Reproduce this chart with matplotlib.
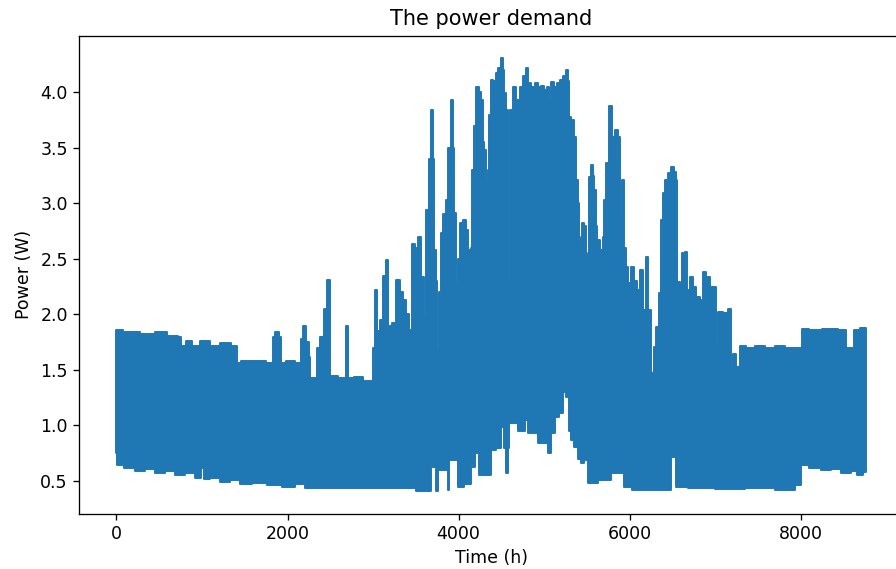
import matplotlib
matplotlib.use("Agg")
import matplotlib.pyplot as plt

# upper envelope of the hourly demand (hour, W)
top_hours = [0, 155, 389, 506, 681, 752, 764, 857, 915, 1032, 1149, 1266, 1406,
             1424, 1500, 1675, 1816, 1840, 1875, 1922, 1933, 2027, 2143, 2166,
             2201, 2236, 2260, 2271, 2330, 2353, 2400, 2446, 2482, 2505, 2669,
             2692, 2716, 2845, 2915, 2985, 3008, 3032, 3055, 3102, 3137, 3160,
             3195, 3254, 3289, 3336, 3371, 3406, 3429, 3476, 3511, 3546, 3581,
             3605, 3640, 3663, 3687, 3710, 3722, 3745, 3757, 3780, 3804, 3839,
             3862, 3897, 3921, 3944, 3956, 3979, 4003, 4038, 4073, 4096, 4131,
             4154, 4166, 4189, 4224, 4248, 4271, 4294, 4306, 4329, 4353, 4364,
             4388, 4423, 4446, 4481, 4505, 4528, 4540, 4575, 4593, 4610, 4657,
             4692, 4739, 4774, 4797, 4832, 4856, 4867, 4885, 4914, 4949, 4984,
             5019, 5042, 5066, 5101, 5136, 5159, 5206, 5241, 5264, 5288, 5299,
             5334, 5358, 5381, 5404, 5416, 5440, 5451, 5475, 5498, 5521, 5533,
             5556, 5580, 5592, 5615, 5627, 5674, 5697, 5709, 5744, 5779, 5802,
             5849, 5884, 5896, 5919, 5943, 5966, 6001, 6036, 6071, 6095, 6141,
             6176, 6200, 6235, 6270, 6293, 6328, 6363, 6375, 6398, 6433, 6468,
             6503, 6527, 6550, 6562, 6609, 6620, 6667, 6679, 6725, 6760, 6795,
             6842, 6877, 6912, 6959, 6994, 7017, 7052, 7134, 7169, 7193, 7228,
             7263, 7310, 7403, 7520, 7637, 7754, 7871, 8012, 8024, 8164, 8339,
             8526, 8538, 8620, 8632, 8759]
top_power = [1.86, 1.84, 1.82, 1.84, 1.81, 1.80, 1.72, 1.76, 1.72, 1.76, 1.72,
             1.74, 1.72, 1.56, 1.58, 1.58, 1.56, 1.80, 1.84, 1.80, 1.56, 1.58,
             1.56, 1.78, 1.90, 1.75, 1.62, 1.43, 1.43, 1.70, 1.80, 2.05, 2.31,
             1.45, 1.43, 1.90, 1.43, 1.44, 1.40, 1.40, 1.70, 2.22, 1.85, 1.95,
             2.35, 2.49, 1.90, 1.92, 2.31, 2.20, 2.13, 2.00, 1.86, 2.63, 2.60,
             2.70, 2.34, 1.98, 2.94, 3.40, 3.84, 3.40, 2.58, 2.30, 1.68, 2.20,
             2.73, 2.90, 3.03, 3.50, 3.93, 3.50, 2.91, 2.28, 2.50, 2.82, 2.85,
             2.76, 2.58, 2.60, 3.30, 3.70, 4.05, 4.00, 3.93, 3.55, 3.48, 3.18,
             3.30, 3.80, 4.11, 4.10, 4.17, 4.22, 4.31, 4.20, 3.99, 3.84, 2.28,
             3.84, 4.05, 3.93, 4.05, 4.15, 4.22, 4.08, 4.05, 3.15, 4.05, 4.08,
             4.05, 4.06, 4.02, 4.05, 3.93, 4.09, 4.05, 4.08, 4.11, 4.15, 4.20,
             4.10, 3.78, 3.75, 3.60, 3.21, 3.00, 2.64, 2.70, 2.82, 2.80, 2.52,
             2.55, 3.24, 3.35, 3.25, 3.12, 2.80, 2.67, 2.58, 2.70, 3.03, 3.36,
             3.88, 3.60, 3.66, 3.60, 2.88, 3.21, 2.60, 2.43, 2.28, 2.43, 2.30,
             2.22, 2.40, 2.04, 2.52, 2.04, 1.47, 1.71, 1.89, 2.19, 2.85, 3.09,
             3.21, 3.27, 3.33, 3.28, 3.21, 2.29, 2.28, 2.55, 2.56, 2.22, 2.34,
             2.25, 2.16, 2.13, 2.38, 2.34, 2.25, 2.25, 1.74, 2.02, 2.01, 2.05,
             1.53, 1.64, 1.53, 1.72, 1.70, 1.72, 1.70, 1.72, 1.70, 1.70, 1.87,
             1.86, 1.87, 1.86, 1.70, 1.70, 1.86, 1.88]

# lower envelope (hour, W)
low_hours = [0, 15, 155, 272, 389, 506, 623, 740, 857, 974, 1009, 1044, 1149,
             1266, 1383, 1500, 1675, 1851, 2027, 2143, 2260, 2493, 2727, 2961,
             3312, 3488, 3511, 3663, 3687, 3722, 3745, 3780, 3862, 3886, 3897,
             3979, 4003, 4131, 4166, 4224, 4259, 4364, 4388, 4481, 4516, 4540,
             4563, 4586, 4598, 4680, 4715, 4751, 4797, 4832, 4914, 4949, 5031,
             5066, 5101, 5148, 5206, 5241, 5276, 5299, 5323, 5381, 5416, 5440,
             5498, 5533, 5615, 5650, 5767, 5791, 5919, 5943, 6118, 6469, 6492,
             6527, 6550, 6819, 7169, 7520, 7871, 7988, 8024, 8164, 8304, 8398,
             8538, 8632, 8690, 8759]
low_power = [0.75, 0.64, 0.62, 0.59, 0.61, 0.57, 0.59, 0.55, 0.57, 0.53, 0.62,
             0.52, 0.53, 0.49, 0.51, 0.47, 0.48, 0.46, 0.45, 0.47, 0.44, 0.44,
             0.44, 0.44, 0.44, 0.44, 0.41, 0.41, 0.63, 0.63, 0.41, 0.60, 0.60,
             0.42, 0.69, 0.69, 0.45, 0.47, 0.63, 0.75, 0.55, 0.55, 0.78, 0.80,
             0.99, 0.80, 0.57, 0.80, 1.02, 1.02, 0.95, 0.95, 1.05, 0.93, 0.93,
             0.84, 0.84, 0.75, 0.93, 1.08, 1.11, 1.30, 1.26, 0.95, 0.87, 0.81,
             0.70, 0.66, 0.69, 0.48, 0.48, 0.51, 0.51, 0.57, 0.57, 0.45, 0.42,
             0.42, 0.72, 0.72, 0.45, 0.44, 0.43, 0.44, 0.42, 0.46, 0.64, 0.62,
             0.60, 0.61, 0.57, 0.59, 0.55, 0.58]


def mid_steps(h, v):
    # same idea as drawstyle='steps-mid'
    edges = [h[0]] + [(a + b) / 2 for a, b in zip(h[:-1], h[1:])] + [h[-1]]
    sx, sy = [], []
    for i in range(len(v)):
        sx += [edges[i], edges[i + 1]]
        sy += [v[i], v[i]]
    return sx, sy


fig = plt.figure(figsize=(8.96, 5.69), dpi=100)
ax = fig.add_axes([79 / 896, 1 - 514 / 569, (903 - 79) / 896, (514 - 35.7) / 569])

# band between the daily highs and lows
ux, uy = mid_steps(top_hours, top_power)
lx, ly = mid_steps(low_hours, low_power)
ax.fill(ux + lx[::-1], uy + ly[::-1], color='#1f77b4', lw=1.4, joinstyle='round')

ax.set_xlim(-438, 9197)
ax.set_ylim(0.203, 4.51)
ax.set_xticks([0, 2000, 4000, 6000, 8000])
ax.set_yticks([0.5, 1.0, 1.5, 2.0, 2.5, 3.0, 3.5, 4.0])

ax.set_title('The power demand', fontsize=15, pad=8)
ax.set_xlabel('Time (h)', fontsize=12.5, labelpad=4)
ax.set_ylabel('Power (W)', fontsize=12.5, labelpad=5)
ax.tick_params(labelsize=12.5, length=4.1, width=0.95, pad=4)
for s in ax.spines.values():
    s.set_linewidth(0.95)

fig.savefig('out.png', dpi=100)
